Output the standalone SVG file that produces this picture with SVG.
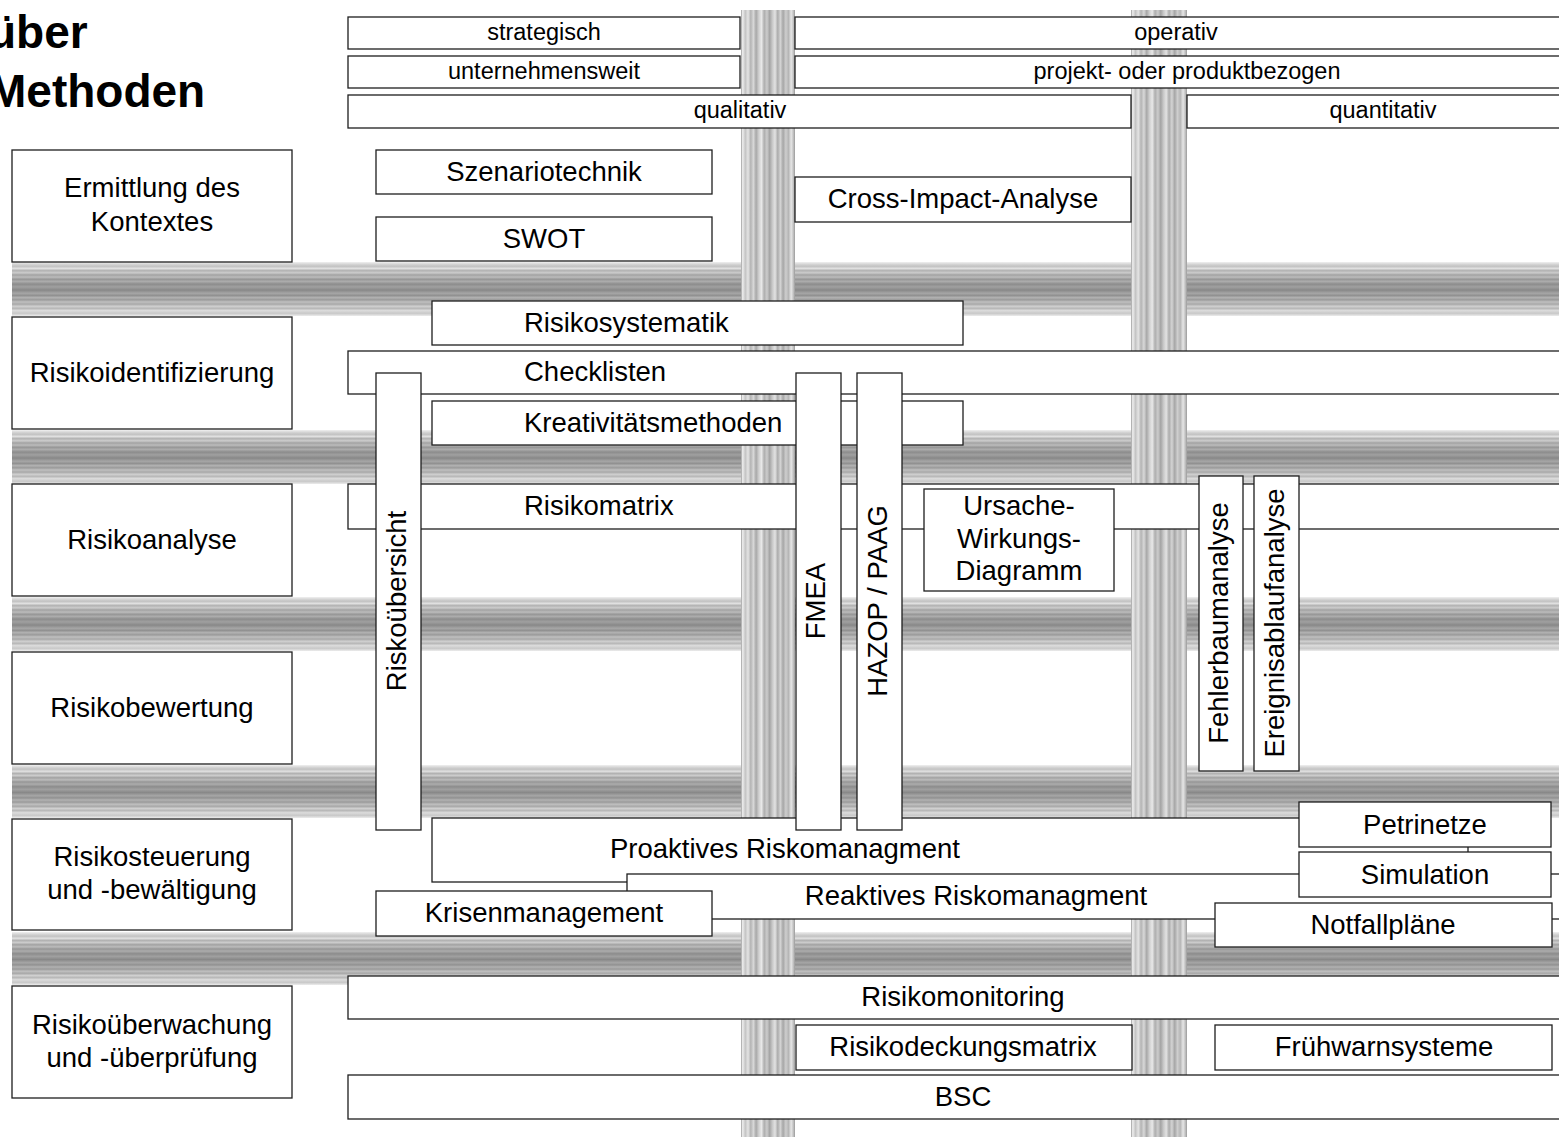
<svg xmlns="http://www.w3.org/2000/svg" width="1559" height="1137" viewBox="0 0 1559 1137">
  <style>
    .box { fill: #ffffff; stroke: #1e1e1e; stroke-width: 1.3; }
    .t { font-family: "Liberation Sans", Arial, sans-serif; font-size: 27.5px; fill: #000; text-anchor: middle; }
    .ts { font-family: "Liberation Sans", Arial, sans-serif; font-size: 27.5px; fill: #000; text-anchor: start; }
    .th { font-family: "Liberation Sans", Arial, sans-serif; font-size: 23.5px; fill: #000; text-anchor: middle; }
    .title { font-family: "Liberation Sans", Arial, sans-serif; font-size: 46px; font-weight: bold; fill: #000; }
    .hb { fill: url(#hband); }
    .vb { fill: url(#vband); }
  </style>
  <defs>
    <!-- striped metallic look for the horizontal phase bands -->
    <linearGradient id="hband" x1="0" y1="0" x2="0" y2="1">
      <stop offset="0" stop-color="#f0f0f0"/>
      <stop offset="0.04" stop-color="#d6d6d6"/>
      <stop offset="0.08" stop-color="#c2c2c2"/>
      <stop offset="0.12" stop-color="#e0e0e0"/>
      <stop offset="0.16" stop-color="#b2b2b2"/>
      <stop offset="0.20" stop-color="#cccccc"/>
      <stop offset="0.24" stop-color="#a2a2a2"/>
      <stop offset="0.28" stop-color="#bcbcbc"/>
      <stop offset="0.32" stop-color="#969696"/>
      <stop offset="0.36" stop-color="#acacac"/>
      <stop offset="0.41" stop-color="#8c8c8c"/>
      <stop offset="0.46" stop-color="#a0a0a0"/>
      <stop offset="0.52" stop-color="#888888"/>
      <stop offset="0.58" stop-color="#a6a6a6"/>
      <stop offset="0.62" stop-color="#919191"/>
      <stop offset="0.66" stop-color="#b2b2b2"/>
      <stop offset="0.70" stop-color="#9a9a9a"/>
      <stop offset="0.74" stop-color="#c0c0c0"/>
      <stop offset="0.78" stop-color="#a8a8a8"/>
      <stop offset="0.82" stop-color="#d0d0d0"/>
      <stop offset="0.86" stop-color="#b8b8b8"/>
      <stop offset="0.90" stop-color="#dcdcdc"/>
      <stop offset="0.95" stop-color="#c8c8c8"/>
      <stop offset="1" stop-color="#ececec"/>
    </linearGradient>
    <!-- lighter striping for the vertical scope bands -->
    <linearGradient id="vband" x1="0" y1="0" x2="1" y2="0">
      <stop offset="0" stop-color="#9a9a9a"/>
      <stop offset="0.03" stop-color="#eeeeee"/>
      <stop offset="0.08" stop-color="#c4c4c4"/>
      <stop offset="0.13" stop-color="#e4e4e4"/>
      <stop offset="0.18" stop-color="#b4b4b4"/>
      <stop offset="0.23" stop-color="#d8d8d8"/>
      <stop offset="0.28" stop-color="#a8a8a8"/>
      <stop offset="0.33" stop-color="#d0d0d0"/>
      <stop offset="0.38" stop-color="#e8e8e8"/>
      <stop offset="0.43" stop-color="#aeaeae"/>
      <stop offset="0.48" stop-color="#cccccc"/>
      <stop offset="0.53" stop-color="#a4a4a4"/>
      <stop offset="0.58" stop-color="#c8c8c8"/>
      <stop offset="0.63" stop-color="#e2e2e2"/>
      <stop offset="0.68" stop-color="#acacac"/>
      <stop offset="0.73" stop-color="#d4d4d4"/>
      <stop offset="0.78" stop-color="#a6a6a6"/>
      <stop offset="0.83" stop-color="#cecece"/>
      <stop offset="0.88" stop-color="#b6b6b6"/>
      <stop offset="0.93" stop-color="#e6e6e6"/>
      <stop offset="0.97" stop-color="#c0c0c0"/>
      <stop offset="1" stop-color="#9a9a9a"/>
    </linearGradient>
  </defs>

  <rect x="0" y="0" width="1559" height="1137" fill="#ffffff"/>

  <!-- title (runs off the left edge) -->
  <g id="title">
    <text class="title" x="-12" y="48">über</text>
    <text class="title" x="-12" y="107">Methoden</text>
  </g>

  <!-- phase bands and scope bands -->
  <g id="bands">
    <rect class="hb" x="12" y="262" width="1560" height="54"/>
    <rect class="hb" x="12" y="430" width="1560" height="54"/>
    <rect class="hb" x="12" y="597" width="1560" height="54"/>
    <rect class="hb" x="12" y="765" width="1560" height="53"/>
    <rect class="hb" x="12" y="932" width="1560" height="53"/>
    <rect class="vb" x="741" y="10" width="54" height="1130"/>
    <rect class="vb" x="1131" y="10" width="56" height="1130"/>
  </g>

  <!-- phase labels -->
  <g id="phase-kontext">
    <rect class="box" x="12" y="150" width="280" height="112"/>
    <text class="t" x="152" y="197">Ermittlung des</text>
    <text class="t" x="152" y="231">Kontextes</text>
  </g>
  <g id="phase-identifizierung">
    <rect class="box" x="12" y="317" width="280" height="112"/>
    <text class="t" x="152" y="382">Risikoidentifizierung</text>
  </g>
  <g id="phase-analyse">
    <rect class="box" x="12" y="484" width="280" height="112"/>
    <text class="t" x="152" y="549">Risikoanalyse</text>
  </g>
  <g id="phase-bewertung">
    <rect class="box" x="12" y="652" width="280" height="112"/>
    <text class="t" x="152" y="717">Risikobewertung</text>
  </g>
  <g id="phase-steuerung">
    <rect class="box" x="12" y="819" width="280" height="111"/>
    <text class="t" x="152" y="866">Risikosteuerung</text>
    <text class="t" x="152" y="899">und -bewältigung</text>
  </g>
  <g id="phase-ueberwachung">
    <rect class="box" x="12" y="986" width="280" height="112"/>
    <text class="t" x="152" y="1034">Risikoüberwachung</text>
    <text class="t" x="152" y="1067">und -überprüfung</text>
  </g>

  <!-- scope headers -->
  <g id="hdr-strategisch">
    <rect class="box" x="348" y="17" width="392" height="32"/>
    <text class="th" x="544" y="40">strategisch</text>
  </g>
  <g id="hdr-operativ">
    <rect class="box" x="795" y="17" width="780" height="32"/>
    <text class="th" x="1176" y="40">operativ</text>
  </g>
  <g id="hdr-unternehmensweit">
    <rect class="box" x="348" y="56" width="392" height="32"/>
    <text class="th" x="544" y="79">unternehmensweit</text>
  </g>
  <g id="hdr-projekt">
    <rect class="box" x="795" y="56" width="780" height="32"/>
    <text class="th" x="1187" y="79">projekt- oder produktbezogen</text>
  </g>
  <g id="hdr-qualitativ">
    <rect class="box" x="348" y="95" width="783" height="33"/>
    <text class="th" x="740" y="118">qualitativ</text>
  </g>
  <g id="hdr-quantitativ">
    <rect class="box" x="1187" y="95" width="390" height="33"/>
    <text class="th" x="1383" y="118">quantitativ</text>
  </g>

  <!-- context methods -->
  <g id="szenariotechnik">
    <rect class="box" x="376" y="150" width="336" height="44"/>
    <text class="t" x="544" y="181">Szenariotechnik</text>
  </g>
  <g id="swot">
    <rect class="box" x="376" y="217" width="336" height="44"/>
    <text class="t" x="544" y="248">SWOT</text>
  </g>
  <g id="cross-impact">
    <rect class="box" x="795" y="177" width="336" height="45"/>
    <text class="t" x="963" y="208">Cross-Impact-Analyse</text>
  </g>

  <!-- identification / analysis methods -->
  <g id="risikosystematik">
    <rect class="box" x="432" y="301" width="531" height="44"/>
    <text class="ts" x="524" y="332">Risikosystematik</text>
  </g>
  <g id="checklisten">
    <rect class="box" x="348" y="351" width="1230" height="43"/>
    <text class="ts" x="524" y="381">Checklisten</text>
  </g>
  <g id="kreativitaetsmethoden">
    <rect class="box" x="432" y="401" width="531" height="44"/>
    <text class="ts" x="524" y="432">Kreativitätsmethoden</text>
  </g>
  <g id="risikomatrix">
    <rect class="box" x="348" y="484" width="1230" height="45"/>
    <text class="ts" x="524" y="515">Risikomatrix</text>
  </g>
  <g id="ursache-wirkung">
    <rect class="box" x="924" y="489" width="190" height="102"/>
    <text class="t" x="1019" y="515">Ursache-</text>
    <text class="t" x="1019" y="548">Wirkungs-</text>
    <text class="t" x="1019" y="580">Diagramm</text>
  </g>
  <g id="fehlerbaumanalyse">
    <rect class="box" x="1199" y="476" width="44" height="295"/>
    <text class="t" transform="translate(1228 623) rotate(-90)">Fehlerbaumanalyse</text>
  </g>
  <g id="ereignisablaufanalyse">
    <rect class="box" x="1254" y="476" width="45" height="295"/>
    <text class="t" transform="translate(1284 623) rotate(-90)">Ereignisablaufanalyse</text>
  </g>

  <!-- treatment methods -->
  <g id="proaktiv">
    <rect class="box" x="432" y="818" width="1036" height="64"/>
    <text class="t" x="785" y="858">Proaktives Riskomanagment</text>
  </g>
  <g id="reaktiv">
    <rect class="box" x="627" y="874" width="950" height="45"/>
    <text class="t" x="976" y="905">Reaktives Riskomanagment</text>
  </g>
  <g id="krisenmanagement">
    <rect class="box" x="376" y="891" width="336" height="45"/>
    <text class="t" x="544" y="922">Krisenmanagement</text>
  </g>

  <!-- vertical spanning methods -->
  <g id="riskouebersicht">
    <rect class="box" x="376" y="373" width="45" height="457"/>
    <text class="t" transform="translate(406 601) rotate(-90)">Riskoübersicht</text>
  </g>
  <g id="fmea">
    <rect class="box" x="796" y="373" width="45" height="457"/>
    <text class="t" transform="translate(825 601) rotate(-90)">FMEA</text>
  </g>
  <g id="hazop">
    <rect class="box" x="857" y="373" width="45" height="457"/>
    <text class="t" transform="translate(887 601) rotate(-90)">HAZOP / PAAG</text>
  </g>

  <!-- quantitative treatment tools -->
  <g id="petrinetze">
    <rect class="box" x="1299" y="802" width="252" height="45"/>
    <text class="t" x="1425" y="834">Petrinetze</text>
  </g>
  <g id="simulation">
    <rect class="box" x="1299" y="852" width="252" height="45"/>
    <text class="t" x="1425" y="884">Simulation</text>
  </g>
  <g id="notfallplaene">
    <rect class="box" x="1215" y="903" width="337" height="44"/>
    <text class="t" x="1383" y="934">Notfallpläne</text>
  </g>

  <!-- monitoring methods -->
  <g id="risikomonitoring">
    <rect class="box" x="348" y="976" width="1230" height="43"/>
    <text class="t" x="963" y="1006">Risikomonitoring</text>
  </g>
  <g id="risikodeckungsmatrix">
    <rect class="box" x="796" y="1025" width="336" height="45"/>
    <text class="t" x="963" y="1056">Risikodeckungsmatrix</text>
  </g>
  <g id="fruehwarnsysteme">
    <rect class="box" x="1215" y="1025" width="337" height="45"/>
    <text class="t" x="1384" y="1056">Frühwarnsysteme</text>
  </g>
  <g id="bsc">
    <rect class="box" x="348" y="1075" width="1230" height="44"/>
    <text class="t" x="963" y="1106">BSC</text>
  </g>
</svg>
